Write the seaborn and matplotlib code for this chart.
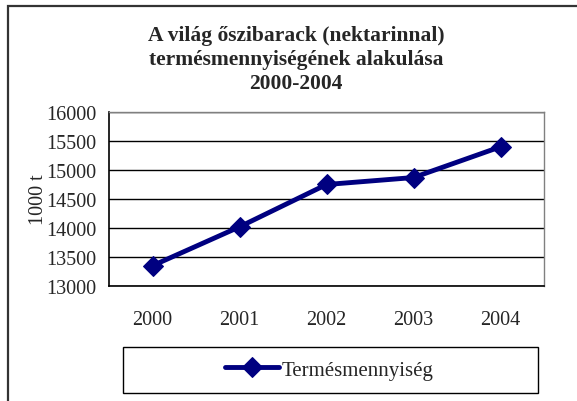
import numpy as np
import pandas as pd
import matplotlib
matplotlib.use("Agg")
import matplotlib.pyplot as plt
import seaborn as sns
from matplotlib.patches import Rectangle

# data
years = ["2000", "2001", "2002", "2003", "2004"]
termes = [13350, 14020, 14750, 14870, 15400]
y_ticks = [13000, 13500, 14000, 14500, 15000, 15500, 16000]

sns.set_style("white")
plt.rcParams["font.family"] = ["Liberation Serif", "DejaVu Serif"]

df = pd.DataFrame({"pos": np.arange(len(years)), "ev": years, "Termésmennyiség": termes})

fig = plt.figure(figsize=(5.77, 4.02), dpi=100)
ax = fig.add_axes([109 / 577, 1 - 287 / 402, 435 / 577, 174 / 402])

sns.lineplot(data=df, x="pos", y="Termésmennyiség", ax=ax, color="#000080",
             linewidth=3.5, marker="D", markersize=10, markeredgecolor="#000080",
             label="Termésmennyiség", legend=False)

ax.set_xlim(-0.5, len(years) - 0.5)
ax.set_ylim(13000, 16000)
ax.set_yticks(y_ticks)
ax.set_yticklabels([str(v) for v in y_ticks], fontsize=14.5)
ax.yaxis.grid(True, color="black", linewidth=1)
ax.set_axisbelow(True)

# category labels centred, tick marks between categories
ax.set_xticks(np.arange(-0.5, len(years)), minor=False)
ax.set_xticklabels([])
ax.set_xticks(np.arange(len(years)), minor=True)
ax.set_xticklabels(years, minor=True, fontsize=14.5)
ax.tick_params(axis="x", which="major", direction="out", length=6, width=1, color="black")
ax.tick_params(axis="x", which="minor", length=0, pad=17)
ax.tick_params(axis="y", direction="out", length=6, width=1, color="black", pad=3)
ax.set_xlabel("")
ax.set_ylabel("1000 t", fontsize=14.5, labelpad=-1)

for s in ["left", "bottom"]:
    ax.spines[s].set_color("black")
    ax.spines[s].set_linewidth(1.2)
for s in ["top", "right"]:
    ax.spines[s].set_color("#808080")
    ax.spines[s].set_linewidth(1)

fig.text(296 / 577, 1 - 60 / 402,
         "A világ őszibarack (nektarinnal)\ntermésmennyiségének alakulása\n2000-2004",
         ha="center", va="center", fontsize=15.5, fontweight="bold", linespacing=1.25)

# legend box
fig.patches.append(Rectangle((123 / 577, 1 - 394 / 402), 415 / 577, 46 / 402,
                             transform=fig.transFigure, fill=False,
                             edgecolor="black", linewidth=1))
h, l = ax.get_legend_handles_labels()
fig.legend(h, l, loc="center", bbox_to_anchor=(329 / 577, 1 - 371 / 402),
           frameon=False, fontsize=15, handlelength=2.6, handletextpad=0.1)

# outer chart frame
fig.patches.append(Rectangle((8 / 577, -0.1), 1.2, 1.1 - 7 / 402,
                             transform=fig.transFigure, fill=False,
                             edgecolor="#333333", linewidth=1.6))

fig.savefig("out.png", dpi=100)
